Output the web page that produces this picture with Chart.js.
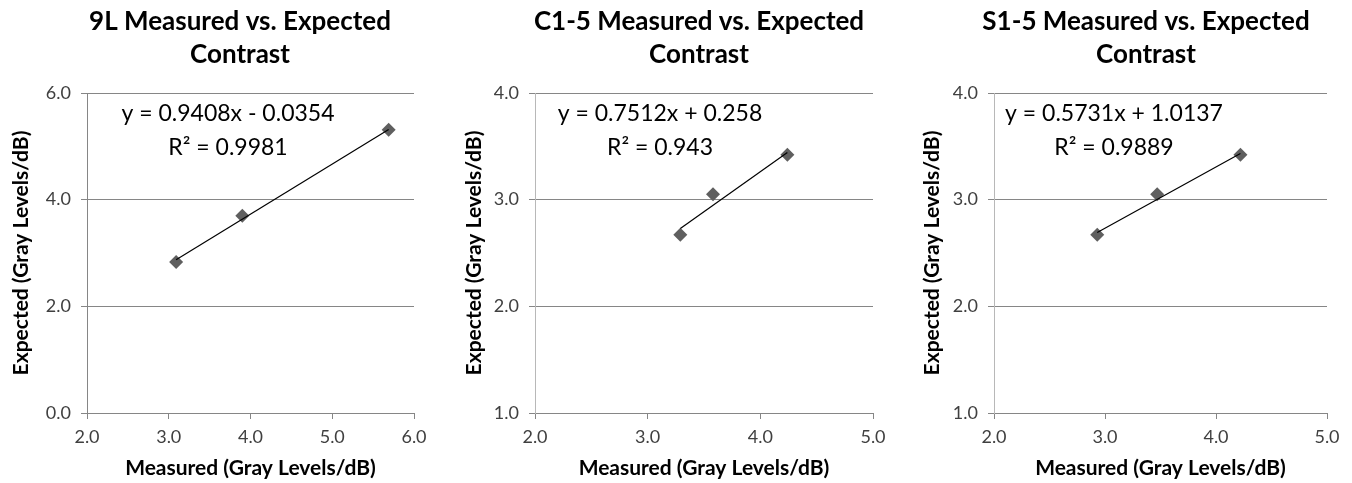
<!DOCTYPE html>
<html>
<head>
<meta charset="utf-8">
<script src="https://cdn.jsdelivr.net/npm/chart.js@4.4.0/dist/chart.umd.min.js"></script>
<style>
  body { margin: 0; background: #fff; }
  #wrap { position: relative; width: 1352px; height: 483px; }
  canvas { position: absolute; top: 0; }
</style>
</head>
<body>
<div id="wrap">
  <canvas id="c0" width="450" height="483" style="left:0px"></canvas>
  <canvas id="c1" width="450" height="483" style="left:450px"></canvas>
  <canvas id="c2" width="452" height="483" style="left:900px"></canvas>
</div>
<script>
// chart titles
const titles = [
  ['9L Measured vs. Expected', 'Contrast'],
  ['C1-5 Measured vs. Expected', 'Contrast'],
  ['S1-5 Measured vs. Expected', 'Contrast']
];

// measured (x) and expected (y) contrast
const measured9L = [3.09, 3.90, 5.69];
const expected9L = [2.83, 3.70, 5.31];
const measuredC15 = [3.29, 3.58, 4.24];
const expectedC15 = [2.67, 3.05, 3.42];
const measuredS15 = [2.93, 3.47, 4.22];
const expectedS15 = [2.67, 3.05, 3.42];

// linear trendlines as printed on the charts
const fitSlopes = [0.9408, 0.7512, 0.5731];
const fitIntercepts = [-0.0354, 0.258, 1.0137];
const fitLabels = [
  ['y = 0.9408x - 0.0354', 'R\u00B2 = 0.9981'],
  ['y = 0.7512x + 0.258', 'R\u00B2 = 0.943'],
  ['y = 0.5731x + 1.0137', 'R\u00B2 = 0.9889']
];

// axis ranges: [min, max, step]
const xRanges = [[2, 6, 1], [2, 5, 1], [2, 5, 1]];
const yRanges = [[0, 6, 2], [1, 4, 1], [1, 4, 1]];

const xTitle = 'Measured (Gray Levels/dB)';
const yTitle = 'Expected (Gray Levels/dB)';

const allMeasured = [measured9L, measuredC15, measuredS15];
const allExpected = [expected9L, expectedC15, expectedS15];

// plot box of each canvas: left, right, top, bottom
const areas = [[87, 414, 93, 413], [85, 423, 93, 413], [94, 427, 93, 413]];
const titleDx = [153, 164, 152];
const fitDx = [141, 125, 120];
const yTitlePad = [9, 12, 20];
const yBorderColor = ['#868686', '#b8b8b8', '#b8b8b8'];

const FONT = 'Lato, "Open Sans", sans-serif';

// draws the two line title and the trendline equation
const panelText = {
  id: 'panelText',
  afterDraw(chart, args, opts) {
    const ctx = chart.ctx;
    const a = chart.chartArea;
    ctx.save();
    ctx.textAlign = 'center';
    ctx.textBaseline = 'middle';
    ctx.fillStyle = '#000';
    ctx.font = 'bold 26px ' + FONT;
    opts.title.forEach((t, i) => ctx.fillText(t, a.left + opts.titleDx, 22 + i * 33));
    ctx.font = '23px ' + FONT;
    opts.fit.forEach((t, i) => ctx.fillText(t, a.left + opts.fitDx, 114 + i * 34));
    ctx.restore();
  }
};

function makeChart(i) {
  const xs = allMeasured[i];
  const ys = allExpected[i];
  const pts = xs.map((x, k) => ({x: x, y: ys[k]}));
  const x0 = Math.min(...xs), x1 = Math.max(...xs);
  const trend = [
    {x: x0, y: fitSlopes[i] * x0 + fitIntercepts[i]},
    {x: x1, y: fitSlopes[i] * x1 + fitIntercepts[i]}
  ];
  const canvas = document.getElementById('c' + i);
  const ar = areas[i];

  new Chart(canvas.getContext('2d'), {
    type: 'scatter',
    data: {
      datasets: [{
        type: 'line',
        data: trend,
        borderColor: '#000',
        borderWidth: 1.2,
        pointRadius: 0,
        fill: false,
        order: 0
      }, {
        data: pts,
        pointStyle: 'rectRot',
        pointRadius: 7,
        backgroundColor: '#5f5f5f',
        borderColor: '#5f5f5f',
        borderWidth: 0,
        order: 1
      }]
    },
    options: {
      responsive: false,
      animation: false,
      layout: {
        padding: {top: ar[2], right: canvas.width - ar[1], bottom: 0, left: 0}
      },
      plugins: {
        legend: {display: false},
        tooltip: {enabled: false},
        panelText: {title: titles[i], fit: fitLabels[i], titleDx: titleDx[i], fitDx: fitDx[i]}
      },
      scales: {
        x: {
          type: 'linear',
          min: xRanges[i][0],
          max: xRanges[i][1],
          afterFit: s => { s.height = canvas.height - ar[3]; },
          ticks: {
            stepSize: xRanges[i][2],
            callback: v => v.toFixed(1),
            color: '#404040',
            font: {family: FONT, size: 18},
            padding: 7,
            maxRotation: 0
          },
          grid: {drawOnChartArea: false, drawTicks: true, tickLength: 6, color: '#868686'},
          border: {color: '#868686'},
          title: {
            display: true,
            text: xTitle,
            color: '#000',
            font: {family: FONT, size: 21, weight: 'bold'},
            padding: {top: 0, bottom: 2}
          }
        },
        y: {
          type: 'linear',
          min: yRanges[i][0],
          max: yRanges[i][1],
          afterFit: s => { s.width = ar[0]; },
          ticks: {
            stepSize: yRanges[i][2],
            callback: v => v.toFixed(1),
            color: '#404040',
            font: {family: FONT, size: 18},
            padding: 10
          },
          grid: {drawOnChartArea: true, drawTicks: true, tickLength: 6, color: '#868686'},
          border: {color: yBorderColor[i]},
          title: {
            display: true,
            text: yTitle,
            color: '#000',
            font: {family: FONT, size: 21, weight: 'bold'},
            padding: {top: yTitlePad[i], bottom: 0}
          }
        }
      }
    },
    plugins: [panelText]
  });
}

[0, 1, 2].forEach(makeChart);
</script>
</body>
</html>
